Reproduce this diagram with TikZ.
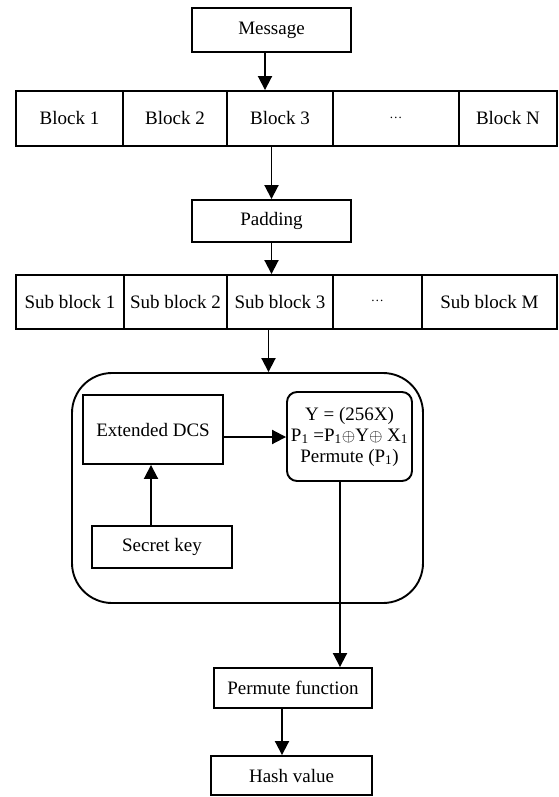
\documentclass[tikz,border=0pt]{standalone}
\usepackage{fontspec}
\setmainfont{Liberation Serif}
\usetikzlibrary{arrows.meta}
\begin{document}
\begin{tikzpicture}[x=1pt,y=-1pt,
  every node/.style={font=\fontsize{19}{22}\selectfont},
  box/.style={draw,line width=1.9pt,rectangle,inner sep=0pt,minimum width=#1},
  cell/.style={draw,line width=1.9pt,rectangle,inner sep=0pt,minimum height=55pt,anchor=west,minimum width=#1},
  scell/.style={draw,line width=1.9pt,rectangle,inner sep=0pt,minimum height=54pt,anchor=west,minimum width=#1},
  dots/.style={font=\fontsize{13}{13}\selectfont},
  arr/.style={line width=1.9pt,-{Triangle[length=14pt,width=14pt]}}]
\useasboundingbox (0,0) rectangle (558,797);
% message
\node[box=159pt,minimum height=44pt] (msg) at (271.5,30) {Message};
% blocks
\node[cell=107pt] (b1) at (15,118.5) {Block 1};
\node[cell=104pt] (b2) at (122,118.5) {Block 2};
\node[cell=106pt] (b3) at (226,118.5) {Block 3};
\node[cell=126pt,dots] (b4) at (332,118.5) {\raisebox{2pt}{…}};
\node[cell=98pt] (bn) at (458,118.5) {Block N};
% padding
\node[box=159pt,minimum height=42pt] (pad) at (271.5,221) {Padding};
% sub blocks
\node[scell=108pt] (s1) at (15,302) {Sub block 1};
\node[scell=103pt] (s2) at (123,302) {Sub block 2};
\node[scell=106pt] (s3) at (226,302) {Sub block 3};
\node[scell=89pt,dots] (s4) at (332,302) {\raisebox{2pt}{…}};
\node[scell=135pt] (sm) at (421,302) {Sub block M};
% big rounded box
\node[draw,line width=1.9pt,rounded corners=40pt,minimum width=351pt,minimum height=230pt,inner sep=0pt] (big) at (247.5,488) {};
\node[box=140pt,minimum height=69pt] (dcs) at (153,429.5) {Extended DCS};
\node[box=140pt,minimum height=42pt] (sk) at (162,547) {Secret key};
\node[box=125pt,minimum height=89pt,rounded corners=10pt,align=center] (f) at (349.5,436.5)
  {Y = (256X)\\[-1pt] P\textsubscript{1} =P\textsubscript{1}$\oplus$Y$\oplus$ X\textsubscript{1}\\[-1pt] Permute (P\textsubscript{1})};
% bottom
\node[box=158pt,minimum height=40pt] (pf) at (293,688) {Permute function};
\node[box=161pt,minimum height=39pt] (hv) at (291.5,775.5) {Hash value};
% connectors
\coordinate (m0) at ([xshift=-6.5pt]msg.south);
\draw[arr] (m0) -- (m0 |- b3.north);
\draw[arr] (pad.north |- b3.south) -- (pad.north);
\draw[arr] (pad.south) -- (pad.south |- s3.north);
\coordinate (s0) at ([xshift=-3pt]pad.south |- s3.south);
\draw[arr] (s0) -- (s0 |- big.north);
\coordinate (d0) at ([yshift=-7.5pt]dcs.east);
\draw[arr] (d0) -- (d0 -| f.west);
\coordinate (k0) at ([xshift=-11pt]sk.north);
\draw[arr] (k0) -- (k0 |- dcs.south);
\coordinate (f0) at ([xshift=-9.5pt]f.south);
\draw[arr] (f0) -- (f0 |- pf.north);
\coordinate (p0) at ([xshift=-11pt]pf.south);
\draw[arr] (p0) -- (p0 |- hv.north);
\end{tikzpicture}
\end{document}
